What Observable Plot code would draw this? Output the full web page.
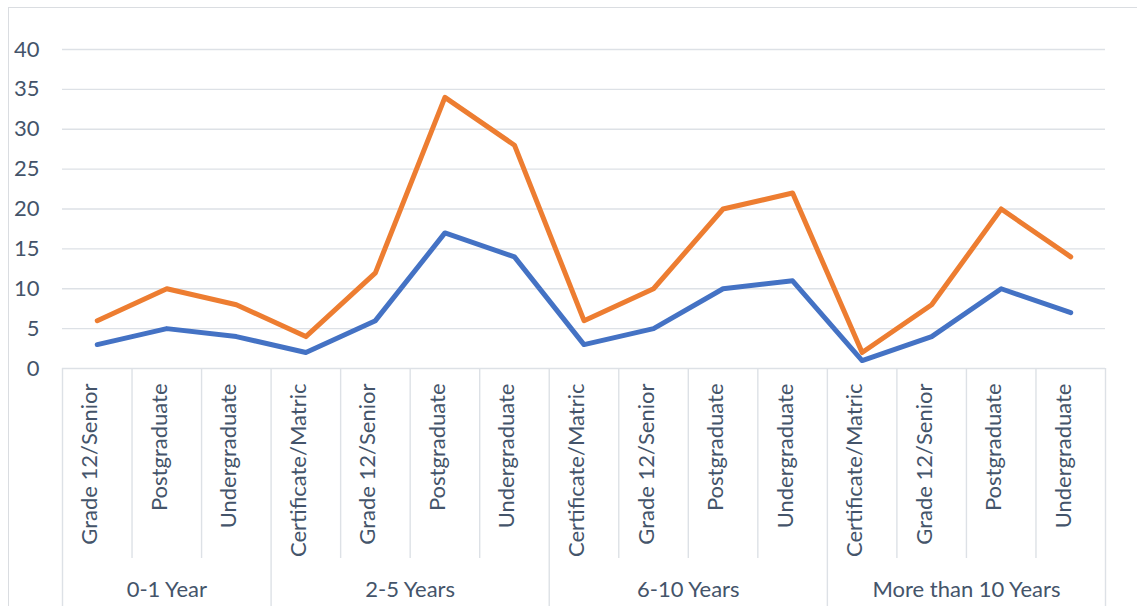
<!DOCTYPE html>
<html>
<head>
<meta charset="utf-8">
<script src="https://cdn.jsdelivr.net/npm/d3@7"></script>
<script src="https://cdn.jsdelivr.net/npm/@observablehq/plot@0.6"></script>
<style>
  html, body { margin: 0; padding: 0; background: #fff; }
  #wrap { position: relative; width: 1137px; height: 606px; overflow: hidden; }
  #border { position: absolute; left: 8px; top: 7px; width: 1140px; height: 610px;
            border-left: 1px solid #dadde1; border-top: 1px solid #dadde1; }
  #chart { position: absolute; left: 0; top: 0; }
</style>
</head>
<body>
<div id="wrap"><div id="border"></div><div id="chart"></div></div>
<script>
// Years of experience (outer category level)
const experience = [
  "0-1 Year", "0-1 Year", "0-1 Year",
  "2-5 Years", "2-5 Years", "2-5 Years", "2-5 Years",
  "6-10 Years", "6-10 Years", "6-10 Years", "6-10 Years",
  "More than 10 Years", "More than 10 Years", "More than 10 Years", "More than 10 Years"
];
// Highest qualification (inner category level)
const qualification = [
  "Grade 12/Senior", "Postgraduate", "Undergraduate",
  "Certificate/Matric", "Grade 12/Senior", "Postgraduate", "Undergraduate",
  "Certificate/Matric", "Grade 12/Senior", "Postgraduate", "Undergraduate",
  "Certificate/Matric", "Grade 12/Senior", "Postgraduate", "Undergraduate"
];
const seriesBlue = [3, 5, 4, 2, 6, 17, 14, 3, 5, 10, 11, 1, 4, 10, 7];
const seriesOrange = [6, 10, 8, 4, 12, 34, 28, 6, 10, 20, 22, 2, 8, 20, 14];
const yTicks = [0, 5, 10, 15, 20, 25, 30, 35, 40];

const n = qualification.length;
const rows = qualification.map((q, i) => ({
  pos: i + 0.5, qualification: q, experience: experience[i],
  blue: seriesBlue[i], orange: seriesOrange[i]
}));

// Group spans for the outer level
const groups = [];
experience.forEach((g, i) => {
  const last = groups[groups.length - 1];
  if (last && last.name === g) last.end = i + 1;
  else groups.push({name: g, start: i, end: i + 1});
});
const groupEdges = [0, ...groups.map(g => g.end)];
const innerEdges = d3.range(1, n).filter(i => !groupEdges.includes(i));

const textColor = "#44546a";
const gridColor = "#dde1e6";
const font = "Lato, 'Open Sans', sans-serif";
const fs = 22;

const chart = Plot.plot({
  width: 1137,
  height: 606,
  marginLeft: 62,
  marginRight: 32,
  marginTop: 49,
  marginBottom: 238,
  style: {fontFamily: font, fontSize: fs + "px", color: textColor, background: "transparent"},
  x: {domain: [0, n], axis: null},
  y: {domain: [0, 40], axis: null},
  marks: [
    // horizontal gridlines
    Plot.ruleY(yTicks.filter(d => d > 0), {stroke: gridColor, strokeWidth: 1.4}),
    // category axis baseline
    Plot.ruleY([0], {stroke: gridColor, strokeWidth: 1.4}),
    // separators between inner categories
    Plot.ruleX(innerEdges, {y1: 0, y2: 0, insetBottom: -190, stroke: gridColor, strokeWidth: 1.4}),
    // separators between outer groups
    Plot.ruleX(groupEdges, {y1: 0, y2: 0, insetBottom: -240, stroke: gridColor, strokeWidth: 1.4}),
    // value axis labels
    Plot.axisY(yTicks, {tickSize: 0, tickPadding: 23, fontSize: fs, fill: textColor, fontFamily: font}),
    // inner category labels
    Plot.text(rows, {
      x: "pos", text: "qualification", frameAnchor: "bottom", dy: 15,
      rotate: -90, textAnchor: "end", fill: textColor, fontSize: fs
    }),
    // outer group labels
    Plot.text(groups, {
      x: g => (g.start + g.end) / 2, text: "name", frameAnchor: "bottom", dy: 228,
      fill: textColor, fontSize: fs
    }),
    Plot.line(rows, {x: "pos", y: "blue", stroke: "#4472c4", strokeWidth: 5,
      strokeLinejoin: "round", strokeLinecap: "round"}),
    Plot.line(rows, {x: "pos", y: "orange", stroke: "#ed7d31", strokeWidth: 5,
      strokeLinejoin: "round", strokeLinecap: "round"})
  ]
});
document.getElementById("chart").appendChild(chart);
</script>
</body>
</html>
